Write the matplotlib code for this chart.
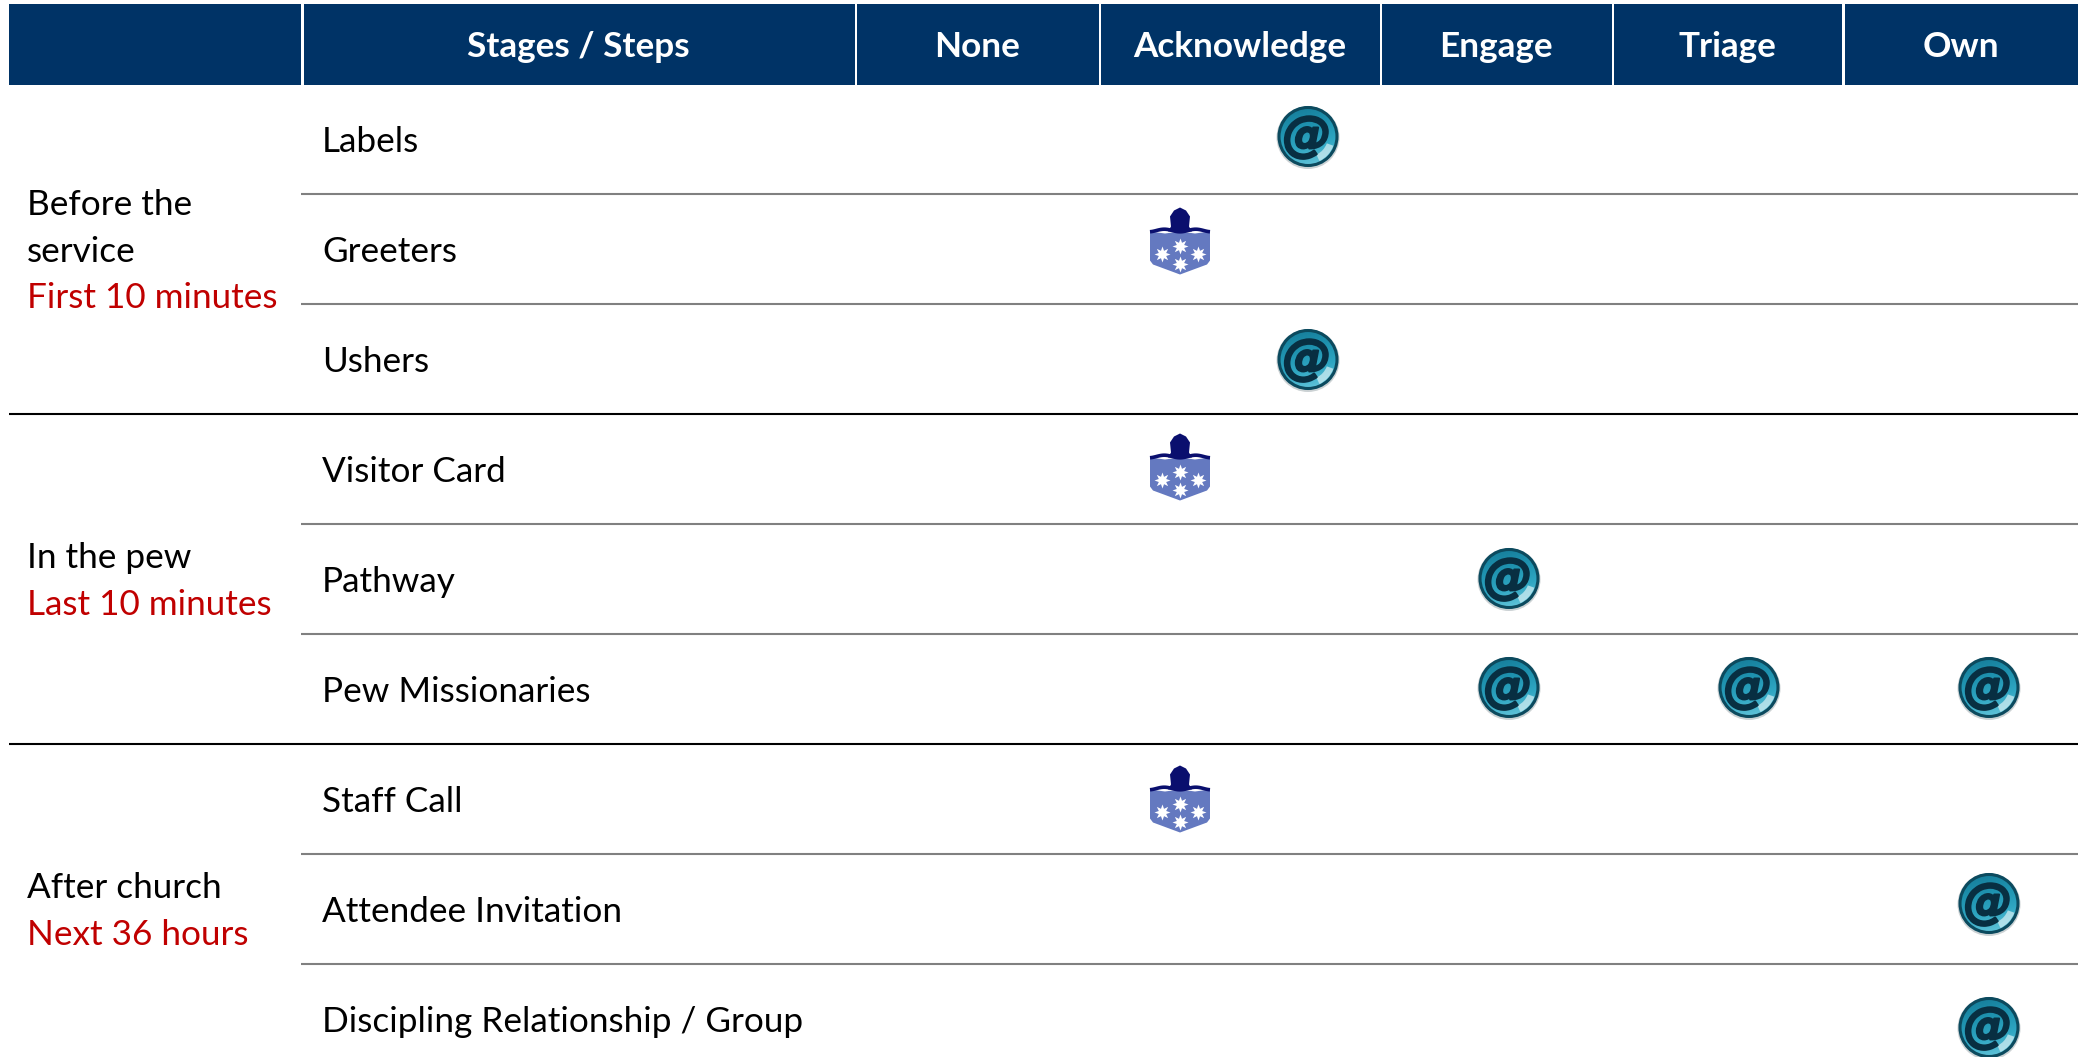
import numpy as np
import matplotlib
matplotlib.use('Agg')
import matplotlib.pyplot as plt
import matplotlib.patheffects as pe
from matplotlib.patches import Circle, Polygon, Rectangle, Wedge

plt.rcParams['font.family'] = ['Lato', 'DejaVu Sans']

# table content
stages = ['Stages / Steps', 'None', 'Acknowledge', 'Engage', 'Triage', 'Own']
rows = ['Labels', 'Greeters', 'Ushers', 'Visitor Card', 'Pathway', 'Pew Missionaries',
        'Staff Call', 'Attendee Invitation', 'Discipling Relationship / Group']
group_names = [['Before the', 'service'], ['In the pew'], ['After church']]
group_times = ['First 10 minutes', 'Last 10 minutes', 'Next 36 hours']
group_sizes = [3, 3, 3]

# which row gets which icon under which stage
at_marks = [('Labels', 'Acknowledge'), ('Ushers', 'Acknowledge'), ('Pathway', 'Engage'),
            ('Pew Missionaries', 'Engage'), ('Pew Missionaries', 'Triage'),
            ('Pew Missionaries', 'Own'), ('Attendee Invitation', 'Own'),
            ('Discipling Relationship / Group', 'Own')]
shield_marks = [('Greeters', 'Acknowledge'), ('Visitor Card', 'Acknowledge'), ('Staff Call', 'Acknowledge')]

# layout, in pixels of the picture
header_edges = [(9, 301), (304, 855), (857, 1099), (1101, 1380), (1382, 1612), (1614, 1842), (1845, 2078)]
header_top, header_bottom = 4, 85
row_top = 83.5
row_h = 110
at_x = {'Acknowledge': 1308, 'Engage': 1509, 'Triage': 1749, 'Own': 1989}
at_dy = {'Labels': -2, 'Ushers': 1, 'Pathway': 0, 'Pew Missionaries': -1,
         'Attendee Invitation': -5, 'Discipling Relationship / Group': 9}
shield_dy = {'Greeters': 0, 'Visitor Card': 6, 'Staff Call': 8}
shield_x = 1180
NAVY = '#003366'
RED = '#C00000'
TXT = 25.3

fig = plt.figure(figsize=(20.78, 10.57), dpi=100)
ax = fig.add_axes([0, 0, 1, 1])

cmap_at = matplotlib.colors.LinearSegmentedColormap.from_list(
    'at', ['#177f9c', '#1f93b0', '#2fa6c2', '#5fc2d8'])


def row_y(name):
    return row_top + row_h * (rows.index(name) + 0.5)


def draw_at(x, y):
    r = 30
    ax.add_patch(Circle((x, y + 1), r + 1.5, fc='#aab4b8', ec='none', alpha=0.6, zorder=3))
    g = np.linspace(-1, 1, 120)
    xx, yy = np.meshgrid(g, g)
    im = ax.imshow(yy + 0.25 * xx, extent=(x - r, x + r, y - r, y + r), origin='lower', cmap=cmap_at,
                   vmin=-1, vmax=1, zorder=4, interpolation='bilinear', aspect='auto')
    im.set_clip_path(Circle((x, y), r, transform=ax.transData))
    ax.add_patch(Circle((x, y), r - 1, fc='none', ec='#0c4a5e', lw=2.2, zorder=5))
    ax.add_patch(Wedge((x, y), r - 3, 20, 65, width=7, fc='#d8f0f4', ec='none', alpha=0.7, zorder=5))
    t = ax.text(x - 1, y, '@', fontsize=35, fontweight='bold', fontstyle='italic', color='#082f42',
                ha='center', va='center', family='DejaVu Sans', zorder=6)
    t.set_path_effects([pe.withStroke(linewidth=1.5, foreground='#082f42')])


def draw_shield(x, y):
    # y is the row centre, the shield sits a bit above it
    c = y - 8
    body = [(x - 30, c - 9), (x - 15, c - 7), (x, c - 9), (x + 15, c - 7), (x + 30, c - 9), (x + 30, c + 20),
            (x + 27, c + 24), (x, c + 34), (x - 27, c + 24), (x - 30, c + 20)]
    ax.add_patch(Polygon(body, closed=True, fc='#6479c0', ec='none', zorder=4))
    dome = [(x - 9, c - 14), (x - 10, c - 24), (x - 6, c - 30), (x, c - 33), (x + 6, c - 30),
            (x + 10, c - 24), (x + 9, c - 14), (x + 12, c - 9), (x - 12, c - 9)]
    ax.add_patch(Polygon(dome, closed=True, fc='#0a0f6e', ec='none', zorder=5))
    wave_x = np.linspace(x - 30, x + 30, 40)
    wave_y = c - 10 + 1.3 * np.cos((wave_x - x) / 5.0)
    ax.plot(wave_x, wave_y, color='#0a0f6e', lw=2.6, zorder=5, solid_capstyle='butt')
    stars_x = [x, x - 18, x + 18, x]
    stars_y = [c + 5, c + 13, c + 13, c + 23]
    ax.plot(stars_x, stars_y, ls='none', marker=(8, 1, 0), ms=11.5, color='white', mew=0, zorder=6)


# header band
for (x0, x1) in header_edges:
    ax.add_patch(Rectangle((x0, header_top), x1 - x0, header_bottom - header_top, fc=NAVY, ec='none'))
for (x0, x1), name in zip(header_edges[1:], stages):
    ax.text((x0 + x1) / 2 - 1, 47, name, color='white', fontsize=TXT, fontweight='bold', ha='center', va='center')

# rows and separators
for i, name in enumerate(rows):
    ax.text(322, row_y(name) + 3.5, name, color='black', fontsize=TXT, ha='left', va='center')
    if i > 0:
        y = row_top + row_h * i
        if i % 3 == 0:
            ax.plot([9, 2078], [y, y], color='black', lw=1.5, solid_capstyle='butt')
        else:
            ax.plot([301, 2078], [y, y], color='#808080', lw=1.5, solid_capstyle='butt')

# group labels on the left
pitch = 46.5
start = 0
for names, when, size in zip(group_names, group_times, group_sizes):
    mid = row_top + row_h * (start + size / 2.0)
    lines = names + [when]
    for j, s in enumerate(lines):
        col = RED if s == when else 'black'
        ax.text(27, mid + 3 + (j - (len(lines) - 1) / 2.0) * pitch, s, color=col, fontsize=TXT, ha='left', va='center')
    start += size

for r, s in at_marks:
    draw_at(at_x[s], row_y(r) + at_dy[r])
for r, s in shield_marks:
    draw_shield(shield_x, row_y(r) + shield_dy[r])

ax.set_xlim(0, 2078)
ax.set_ylim(1057, 0)
ax.axis('off')
fig.savefig('out.png', dpi=100, facecolor='white')
